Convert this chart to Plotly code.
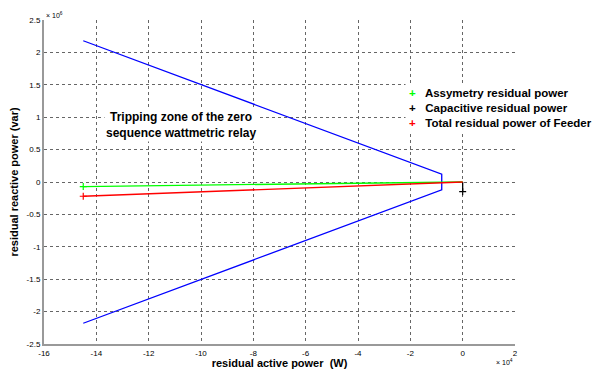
import plotly.graph_objects as go

# Data (real units: W and var)
zone_x = [-14.5e4, -0.8e4, -0.8e4, -14.5e4]
zone_y = [2.18e6, 0.12e6, -0.12e6, -2.18e6]

asym_x = [0, -14.5e4]
asym_y = [0, -0.07e6]
cap_x = [0, 0]
cap_y = [0, -0.15e6]
total_x = [0, -14.5e4]
total_y = [0, -0.22e6]

series_names = ["Assymetry residual power", "Capacitive residual power", "Total residual power of Feeder"]
series_colors = ["#00ff00", "#000000", "#ff0000"]

x_tickvals = [v * 1e4 for v in range(-16, 3, 2)]
x_ticktext = ["-16", "-14", "-12", "-10", "-8", "-6", "-4", "-2", "0", "2"]
y_tickvals = [v * 1e6 for v in [2.5, 2, 1.5, 1, 0.5, 0, -0.5, -1, -1.5, -2, -2.5]]
y_ticktext = ["2.5", "2", "1.5", "1", "0.5", "0", "-0.5", "-1", "-1.5", "-2", "-2.5"]

font = "Liberation Sans, Arial, sans-serif"

fig = go.Figure()
fig.add_trace(go.Scatter(x=zone_x, y=zone_y, mode="lines", line=dict(color="#0000ff", width=1.3),
                         name="Tripping zone", showlegend=False))

series = [(asym_x, asym_y), (cap_x, cap_y), (total_x, total_y)]
for (xs, ys), name, c in zip(series, series_names, series_colors):
    fig.add_trace(go.Scatter(x=xs, y=ys, mode="lines", line=dict(color=c, width=1.3), showlegend=False))
for (xs, ys), name, c in zip(series, series_names, series_colors):
    fig.add_trace(go.Scatter(x=[xs[-1]], y=[ys[-1]], mode="markers", name=name, showlegend=False,
                             marker=dict(symbol="cross-thin", size=5, line=dict(color=c, width=1.2), color=c)))

# manual legend (MATLAB style: markers only, bold text, white box)
legend_lines = [f"<span style='color:{c}'>+</span>   {n}" for n, c in zip(series_names, series_colors)]
fig.add_annotation(xref="paper", yref="paper", x=0.766, y=0.805, xanchor="left", yanchor="top",
                   text="<b>" + "<br>".join(legend_lines) + "</b>", align="left", showarrow=False,
                   font=dict(family=font, size=11.5, color="black"), bgcolor="white", borderpad=3)

fig.add_annotation(x=-10.75e4, y=0.88e6, text="<b>Tripping zone of the zero<br>sequence wattmetric relay</b>",
                   showarrow=False, font=dict(family=font, size=12, color="black"), bgcolor="white", align="center")
fig.add_annotation(xref="paper", yref="paper", x=0, y=1, xanchor="left", yanchor="bottom",
                   text="× 10<sup>6</sup>", showarrow=False, font=dict(family=font, size=7, color="black"), yshift=-1)
fig.add_annotation(xref="paper", yref="paper", x=1, y=0, xanchor="right", yanchor="top",
                   text="× 10<sup>4</sup>", showarrow=False, font=dict(family=font, size=7, color="black"), yshift=-12)

axis_common = dict(showgrid=True, gridcolor="#666666", griddash="dot", gridwidth=1, zeroline=False,
                   showline=True, linecolor="#999999", linewidth=2, ticks="", automargin=False,
                   tickfont=dict(family=font, size=8, color="black"))

fig.update_layout(
    width=600, height=369,
    margin=dict(l=44, r=85, t=20, b=25),
    plot_bgcolor="white", paper_bgcolor="white",
    xaxis=dict(range=[-16e4, 2e4], tickvals=x_tickvals, ticktext=x_ticktext,
               title=dict(text="<b>residual active power  (W)</b>", font=dict(family=font, size=11, color="black"), standoff=2),
               **axis_common),
    yaxis=dict(range=[-2.5e6, 2.5e6], tickvals=y_tickvals, ticktext=y_ticktext,
               title=dict(text="<b>residual reactive power (var)</b>", font=dict(family=font, size=11, color="black"), standoff=6),
               **axis_common),
    showlegend=False,
)
fig.write_html("out.html", config={"displayModeBar": False},
               post_script="document.body.style.margin='0';document.body.style.overflow='hidden';")
